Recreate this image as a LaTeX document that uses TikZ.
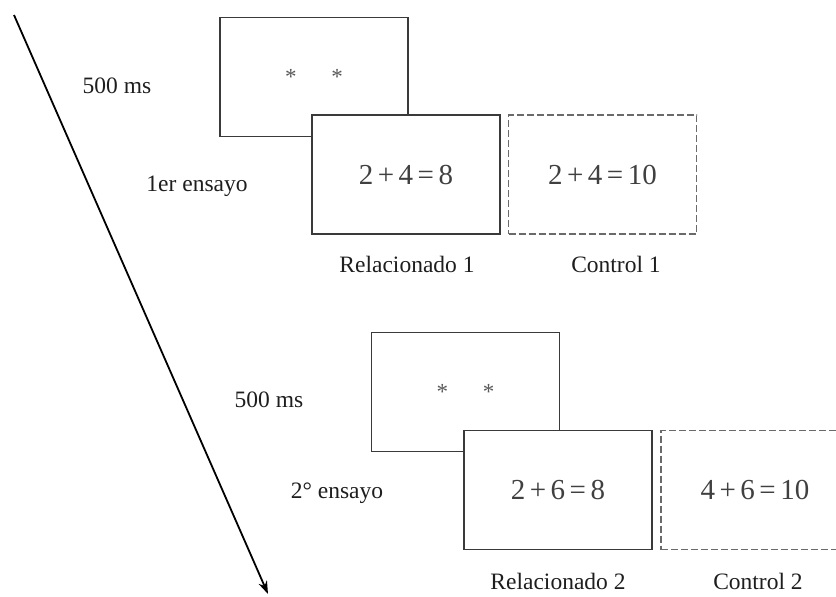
\documentclass[tikz,border=0pt]{standalone}
\usepackage{fontspec}
\setmainfont{Liberation Serif}
\usetikzlibrary{arrows.meta}
\definecolor{boxline}{HTML}{3A3A3A}
\definecolor{dashline}{HTML}{6A6A6A}
\definecolor{ink}{HTML}{1E1E1E}
\tikzset{
  screen/.style={draw=boxline, line width=1.4pt, fill=white,
    minimum width=188pt, minimum height=119pt, inner sep=0pt,
    font=\fontsize{29}{33}\selectfont, text=ink!85},
  ctlscreen/.style={screen, draw=dashline, dash pattern=on 7pt off 3pt},
  fixtext/.style={font=\fontsize{23}{27}\selectfont, text=black!65},
  lbl/.style={font=\fontsize{23.5}{28}\selectfont, text=ink, inner sep=0pt},
  timearrow/.style={draw=black, line width=1.8pt, -{Stealth[length=13pt,width=9pt]}}
}
\newcommand{\stars}{*\hspace{35pt}*}
\newcommand{\eqsp}{\hspace{4.5pt}}
\begin{document}
\begin{tikzpicture}[x=1pt,y=-1pt]
  \useasboundingbox (0,0) rectangle (836,597);
  % time axis
  \coordinate (tstart) at (14,15);
  \coordinate (tend) at (268,594);
  \draw[timearrow] (tstart) -- (tend);

  % first trial
  \node[screen, fixtext] (fixa) at (314,77) {\stars};
  \node[screen] (rela) at (406,174.5) {2\eqsp+\eqsp4\eqsp=\eqsp8};
  \node[ctlscreen] (ctla) at (602.5,174.5) {2\eqsp+\eqsp4\eqsp=\eqsp10};
  \node[lbl] (msa) at (117,86) {500 ms};
  \node[lbl] (ensa) at (197,186) {1er ensayo};
  \node[lbl] (rlabela) at (407,264) {Relacionado 1};
  \node[lbl] (clabela) at (616,264) {Control 1};

  % second trial
  \node[screen, fixtext] (fixb) at (465.5,392) {\stars};
  \node[screen] (relb) at (558,490) {2\eqsp+\eqsp6\eqsp=\eqsp8};
  \node[ctlscreen] (ctlb) at (755,490) {4\eqsp+\eqsp6\eqsp=\eqsp10};
  \node[lbl] (msb) at (269,400) {500 ms};
  \node[lbl] (ensb) at (337,493) {2° ensayo};
  \node[lbl] (rlabelb) at (558,581) {Relacionado 2};
  \node[lbl] (clabelb) at (758,581) {Control 2};
\end{tikzpicture}
\end{document}
